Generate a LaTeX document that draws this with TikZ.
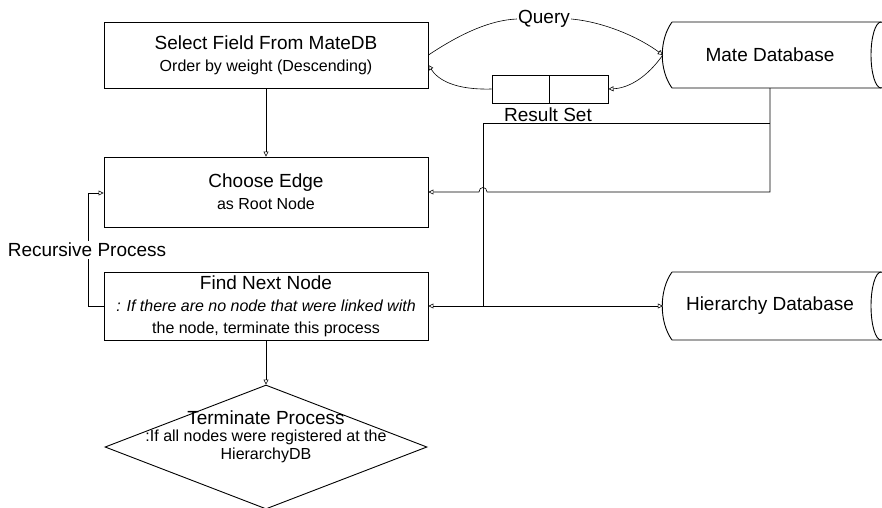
\documentclass[tikz,border=0pt]{standalone}
\usepackage{fontspec}
\setmainfont{Liberation Sans}
\usetikzlibrary{arrows.meta,shapes.geometric,calc}
\newcommand\fsbig{\fontsize{19}{22}\selectfont}
\newcommand\fssmall{\fontsize{16}{21}\selectfont}
\begin{document}
\begin{tikzpicture}[x=1pt,y=-1pt,
  box/.style={draw, line width=0.9pt, minimum width=324pt, inner sep=0pt, align=center, font=\fsbig},
  conn/.style={line width=0.6pt},
  arr/.style={conn, -{Triangle[open,length=5pt,width=5pt]}},
  lbl/.style={font=\fsbig, inner sep=1pt},
  dbtext/.style={minimum width=214pt, minimum height=68pt, inner sep=0pt, font=\fsbig},
  outline/.style={line width=0.9pt}
]
\useasboundingbox (0,0) rectangle (882,507);

% process boxes
\node[box, minimum height=66pt] (select) at (266,55)
  {Select Field From MateDB\\{\fssmall Order by weight (Descending)}};
\node[box, minimum height=70pt] (choose) at (266,192)
  {Choose Edge\\{\fssmall as Root Node}};
\node[box, minimum height=68pt] (find) at (266,306)
  {Find Next Node\\{\fssmall\itshape : If there are no node that were linked with}\\{\fssmall the node, terminate this process}};

% decision
\node[draw, diamond, line width=0.9pt, minimum width=322pt, minimum height=124pt, inner sep=0pt] (term) at (266,447) {};
\node[align=center, font=\fsbig, inner sep=0pt] (termtxt) at (266,437)
  {Terminate Process\\[-5pt]{\fssmall :If all nodes were registered at the}\\[-4pt]{\fssmall HierarchyDB}};

% databases
\node[dbtext, minimum height=66pt] (mate) at (770,55) {Mate Database};
\draw[outline] (672,22) -- (881,22) (672,88) -- (881,88)
  (672,22) .. controls (659,40) and (659,70) .. (672,88);
\draw[outline] (881,55) ellipse [x radius=10, y radius=33];

\node[dbtext] (hier) at (770,306) {Hierarchy Database};
\draw[outline] (672,272) -- (881,272) (672,340) -- (881,340)
  (672,272) .. controls (659,290) and (659,322) .. (672,340);
\draw[outline] (881,306) ellipse [x radius=10, y radius=34];

% result set
\node[draw, line width=0.9pt, minimum width=57pt, minimum height=28pt, inner sep=0pt] (rsL) at (520.5,89) {};
\node[draw, line width=0.9pt, minimum width=59pt, minimum height=28pt, inner sep=0pt] (rsR) at (578.5,89) {};
\node[lbl] (rslbl) at (548,115) {Result Set};

% query / result
\node[lbl] (query) at (544,19) {Query};
\draw[conn] (select.east) .. controls (460,34) and (490,20) .. (query.west);
\draw[arr] (query.east) .. controls (605,22) and (640,38) .. (mate.west);
\draw[arr] (mate.west) .. controls (648,76) and (630,88) .. (rsR.east);
\draw[arr] (rsL.west) .. controls (455,90) and (438,80) .. ($(select.east)+(0,10)$);

% main flow
\draw[arr] (select.south) -- (choose.north);
\draw[arr] (find.south) -- (term.north);

% recursive loop
\coordinate (loopB) at (88,306);
\coordinate (loopT) at (88,193);
\draw[arr] (find.west) -- (loopB) -- (loopT) -- (choose.west |- loopT);
\node[lbl, fill=white, inner sep=2pt] (rec) at (87,250) {Recursive Process};

% database connectors
\coordinate (jA) at (483,123);
\coordinate (jB) at (483,306);
\coordinate (jC) at (770,192);
\draw[arr] (mate.south) -- (jC) -- (487,192) .. controls (487,186) and (479,186) .. (479,192) -- (choose.east |- jC);
\draw[conn] (jA) -- (jA -| mate.south);
\draw[conn] (jA) -- (jB);
\draw[arr] (jB) -- (find.east |- jB);
\draw[arr] (jB) -- (hier.west);
\end{tikzpicture}
\end{document}
